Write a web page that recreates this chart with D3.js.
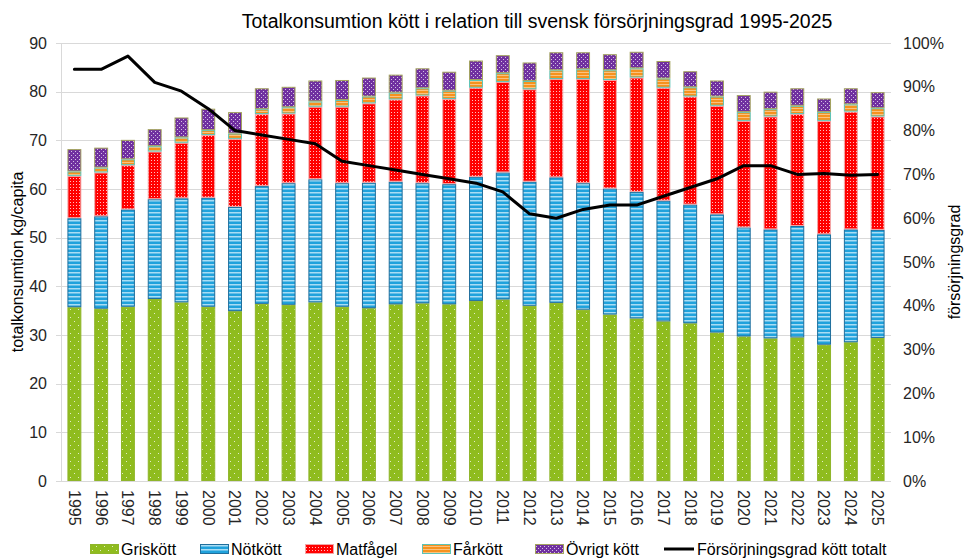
<!DOCTYPE html>
<html>
<head>
<meta charset="utf-8">
<script src="https://cdn.jsdelivr.net/npm/d3@7"></script>
<style>
  body { margin: 0; background: #fff; }
  svg { display: block; font-family: "Liberation Sans", Arial, sans-serif; }
</style>
</head>
<body>
<svg class="svg"></svg>
<script>
const years = d3.range(1995, 2026).map(String);

// kg/capita per köttslag
const griskott = [35.7, 35.4, 35.8, 37.4, 36.7, 35.8, 34.9, 36.4, 36.2, 36.7, 35.8, 35.5, 36.3, 36.5, 36.3, 37.0,
  37.3, 36.0, 36.6, 35.2, 34.2, 33.4, 32.8, 32.4, 30.5, 29.7, 29.3, 29.5, 28.0, 28.5, 29.4];
const notkott = [18.3, 19.0, 20.0, 20.5, 21.4, 22.4, 21.4, 24.2, 25.0, 25.3, 25.4, 25.8, 25.2, 24.7, 24.7, 25.5,
  26.1, 25.5, 25.8, 26.0, 25.9, 26.0, 24.8, 24.4, 24.3, 22.4, 22.4, 22.9, 22.7, 23.2, 22.2];
const matfagel = [8.7, 9.0, 9.1, 9.8, 11.4, 12.9, 14.0, 14.8, 14.3, 14.9, 15.7, 16.3, 16.9, 18.0, 17.5, 18.3,
  18.6, 19.0, 20.2, 21.4, 22.3, 23.5, 23.2, 22.2, 22.3, 21.9, 23.2, 23.0, 23.3, 24.2, 23.3];
const farkott = [0.9, 1.0, 1.2, 1.1, 1.1, 1.0, 1.1, 1.0, 1.3, 1.1, 1.4, 1.4, 1.4, 1.5, 1.7, 1.6,
  1.8, 1.7, 1.8, 2.0, 2.0, 1.9, 1.9, 1.9, 1.9, 1.8, 1.5, 1.7, 1.8, 1.5, 1.7];
const ovrigt = [4.6, 4.1, 4.0, 3.5, 4.1, 4.4, 4.4, 4.3, 4.2, 4.3, 4.1, 3.9, 3.7, 4.1, 3.9, 4.0,
  3.7, 3.8, 3.7, 3.5, 3.3, 3.4, 3.6, 3.3, 3.3, 3.5, 3.6, 3.6, 2.8, 3.3, 3.3];

// försörjningsgrad kött totalt, %
const forsorjning = [94, 94, 97, 91, 89, 85, 80, 79, 78, 77, 73, 72, 71, 70, 69, 68,
  66, 61, 60, 62, 63, 63, 65, 67, 69, 72, 72, 70, 70.2, 69.8, 70];

const leftTicks = d3.range(0, 91, 10);
const rightTicks = d3.range(0, 1.01, 0.1);

const series = [
  { key: 'Griskött', values: griskott, pat: 'pat-gris', stroke: '#8fb52a' },
  { key: 'Nötkött', values: notkott, pat: 'pat-not', stroke: '#1f6e9c' },
  { key: 'Matfågel', values: matfagel, pat: 'pat-mat', stroke: '#f3a5a5' },
  { key: 'Fårkött', values: farkott, pat: 'pat-far', stroke: '#5cc3b6' },
  { key: 'Övrigt kött', values: ovrigt, pat: 'pat-ovr', stroke: '#a3a35e' }
];

const width = 968;
const height = 560;
const plot = { left: 61, right: 891, top: 43, bottom: 481 };

const svg = d3.select('.svg').attr('width', width).attr('height', height);
const defs = svg.append('defs');

// fill patterns, roughly like the Excel ones
function dotPattern(id, bg, w, h, dots, dotColor, op) {
  const p = defs.append('pattern').attr('id', id).attr('patternUnits', 'userSpaceOnUse')
    .attr('width', w).attr('height', h);
  p.append('rect').attr('width', w).attr('height', h).attr('fill', bg);
  dots.forEach(d => p.append('rect').attr('x', d[0]).attr('y', d[1]).attr('width', 1).attr('height', 1)
    .attr('fill', dotColor).attr('opacity', op));
}
function stripePattern(id, bg, light, h, lh) {
  const p = defs.append('pattern').attr('id', id).attr('patternUnits', 'userSpaceOnUse')
    .attr('width', 8).attr('height', h);
  p.append('rect').attr('width', 8).attr('height', h).attr('fill', bg);
  p.append('rect').attr('y', 0).attr('width', 8).attr('height', lh).attr('fill', light);
}
dotPattern('pat-gris', '#8fbc1e', 8, 8, [[2, 1], [6, 5]], '#ffffff', 0.75);
stripePattern('pat-not', '#20a2dc', '#a9ddf4', 4, 1.5);
dotPattern('pat-mat', '#ff0000', 3, 3, [[1, 1]], '#ffffff', 0.75);
stripePattern('pat-far', '#f6921e', '#fbc27f', 3, 1);
dotPattern('pat-ovr', '#7030a0', 4, 4, [[1, 1], [3, 3]], '#ffffff', 0.7);

const x = d3.scaleBand().domain(years).range([plot.left, plot.right])
  .paddingInner(0.48).paddingOuter(0.24);
const y = d3.scaleLinear().domain([0, 90]).range([plot.bottom, plot.top]);
const y2 = d3.scaleLinear().domain([0, 1]).range([plot.bottom, plot.top]);

// gridlines
svg.append('g')
  .selectAll('line')
  .data(leftTicks)
  .join('line')
  .attr('x1', plot.left - 5)
  .attr('x2', plot.right)
  .attr('y1', d => Math.round(y(d)) + 0.5)
  .attr('y2', d => Math.round(y(d)) + 0.5)
  .attr('stroke', '#d9d9d9')
  .attr('stroke-width', 1);

svg.append('line')
  .attr('x1', plot.left + 0.5).attr('x2', plot.left + 0.5)
  .attr('y1', plot.top).attr('y2', plot.bottom)
  .attr('stroke', '#d9d9d9');

// stacked bars
const table = years.map((yr, i) => {
  const row = { year: yr };
  series.forEach(s => { row[s.key] = s.values[i]; });
  return row;
});
const stack = d3.stack().keys(series.map(s => s.key))(table);

svg.append('g')
  .selectAll('g')
  .data(stack)
  .join('g')
  .attr('fill', (d, i) => `url(#${series[i].pat})`)
  .attr('stroke', (d, i) => series[i].stroke)
  .attr('stroke-width', 1)
  .selectAll('rect')
  .data(d => d)
  .join('rect')
  .attr('x', d => x(d.data.year) + 0.5)
  .attr('width', x.bandwidth() - 1)
  .attr('y', d => y(d[1]) + 0.5)
  .attr('height', d => Math.max(0, y(d[0]) - y(d[1]) - 1));

// bottom axis line
svg.append('line')
  .attr('x1', plot.left).attr('x2', plot.right)
  .attr('y1', plot.bottom + 0.5).attr('y2', plot.bottom + 0.5)
  .attr('stroke', '#d9d9d9');

// line series
const line = d3.line()
  .x((d, i) => x(years[i]) + x.bandwidth() / 2)
  .y(d => y2(d / 100));

svg.append('path')
  .datum(forsorjning)
  .attr('d', line)
  .attr('fill', 'none')
  .attr('stroke', '#000')
  .attr('stroke-width', 3)
  .attr('stroke-linejoin', 'round')
  .attr('stroke-linecap', 'round');

// axes
const fs = 16;
const tickColor = '#262626';
const leftAxis = svg.append('g')
  .attr('transform', `translate(${plot.left - 8},0)`)
  .call(d3.axisLeft(y).tickValues(leftTicks).tickSize(0).tickPadding(6));
leftAxis.select('.domain').remove();
leftAxis.selectAll('text').attr('font-size', fs).attr('fill', tickColor).attr('font-family', null);

const rightAxis = svg.append('g')
  .attr('transform', `translate(${plot.right + 6},0)`)
  .call(d3.axisRight(y2).tickValues(rightTicks).tickFormat(d3.format('.0%')).tickSize(0).tickPadding(6));
rightAxis.select('.domain').remove();
rightAxis.selectAll('text').attr('font-size', fs).attr('fill', tickColor).attr('font-family', null);

const bottomAxis = svg.append('g')
  .attr('transform', `translate(0,${plot.bottom})`)
  .call(d3.axisBottom(x).tickSize(0).tickPadding(0));
bottomAxis.select('.domain').remove();
bottomAxis.selectAll('text')
  .attr('font-size', fs)
  .attr('fill', tickColor)
  .attr('font-family', null)
  .attr('transform', 'rotate(90)')
  .attr('text-anchor', 'start')
  .attr('dy', '0.35em')
  .attr('x', 9)
  .attr('y', 0);

// titles
svg.append('text')
  .attr('x', 537)
  .attr('y', 28)
  .attr('text-anchor', 'middle')
  .attr('font-size', 19.5)
  .attr('fill', '#000')
  .text('Totalkonsumtion kött i relation till svensk försörjningsgrad 1995-2025');

svg.append('text')
  .attr('transform', `translate(23,${(plot.top + plot.bottom) / 2}) rotate(-90)`)
  .attr('text-anchor', 'middle')
  .attr('font-size', fs)
  .attr('fill', '#000')
  .text('totalkonsumtion  kg/capita');

svg.append('text')
  .attr('transform', `translate(960,${(plot.top + plot.bottom) / 2}) rotate(-90)`)
  .attr('text-anchor', 'middle')
  .attr('font-size', fs)
  .attr('fill', '#000')
  .text('försörjningsgrad');

// legend
const legendX = [90, 200, 305, 422, 535];
const legend = svg.append('g').attr('transform', 'translate(0,549)');
series.forEach((s, i) => {
  const g = legend.append('g').attr('transform', `translate(${legendX[i]},0)`);
  g.append('rect')
    .attr('x', 0.5).attr('y', -4.5).attr('width', 28).attr('height', 9)
    .attr('fill', `url(#${s.pat})`).attr('stroke', s.stroke);
  g.append('text').attr('x', 31).attr('dy', '0.35em').attr('font-size', fs).attr('fill', '#000').text(s.key);
});
const lg = legend.append('g').attr('transform', 'translate(664,0)');
lg.append('line').attr('x1', 0).attr('x2', 30).attr('stroke', '#000').attr('stroke-width', 3);
lg.append('text').attr('x', 33).attr('dy', '0.35em').attr('font-size', fs).attr('fill', '#000')
  .text('Försörjningsgrad kött totalt');
</script>
</body>
</html>
